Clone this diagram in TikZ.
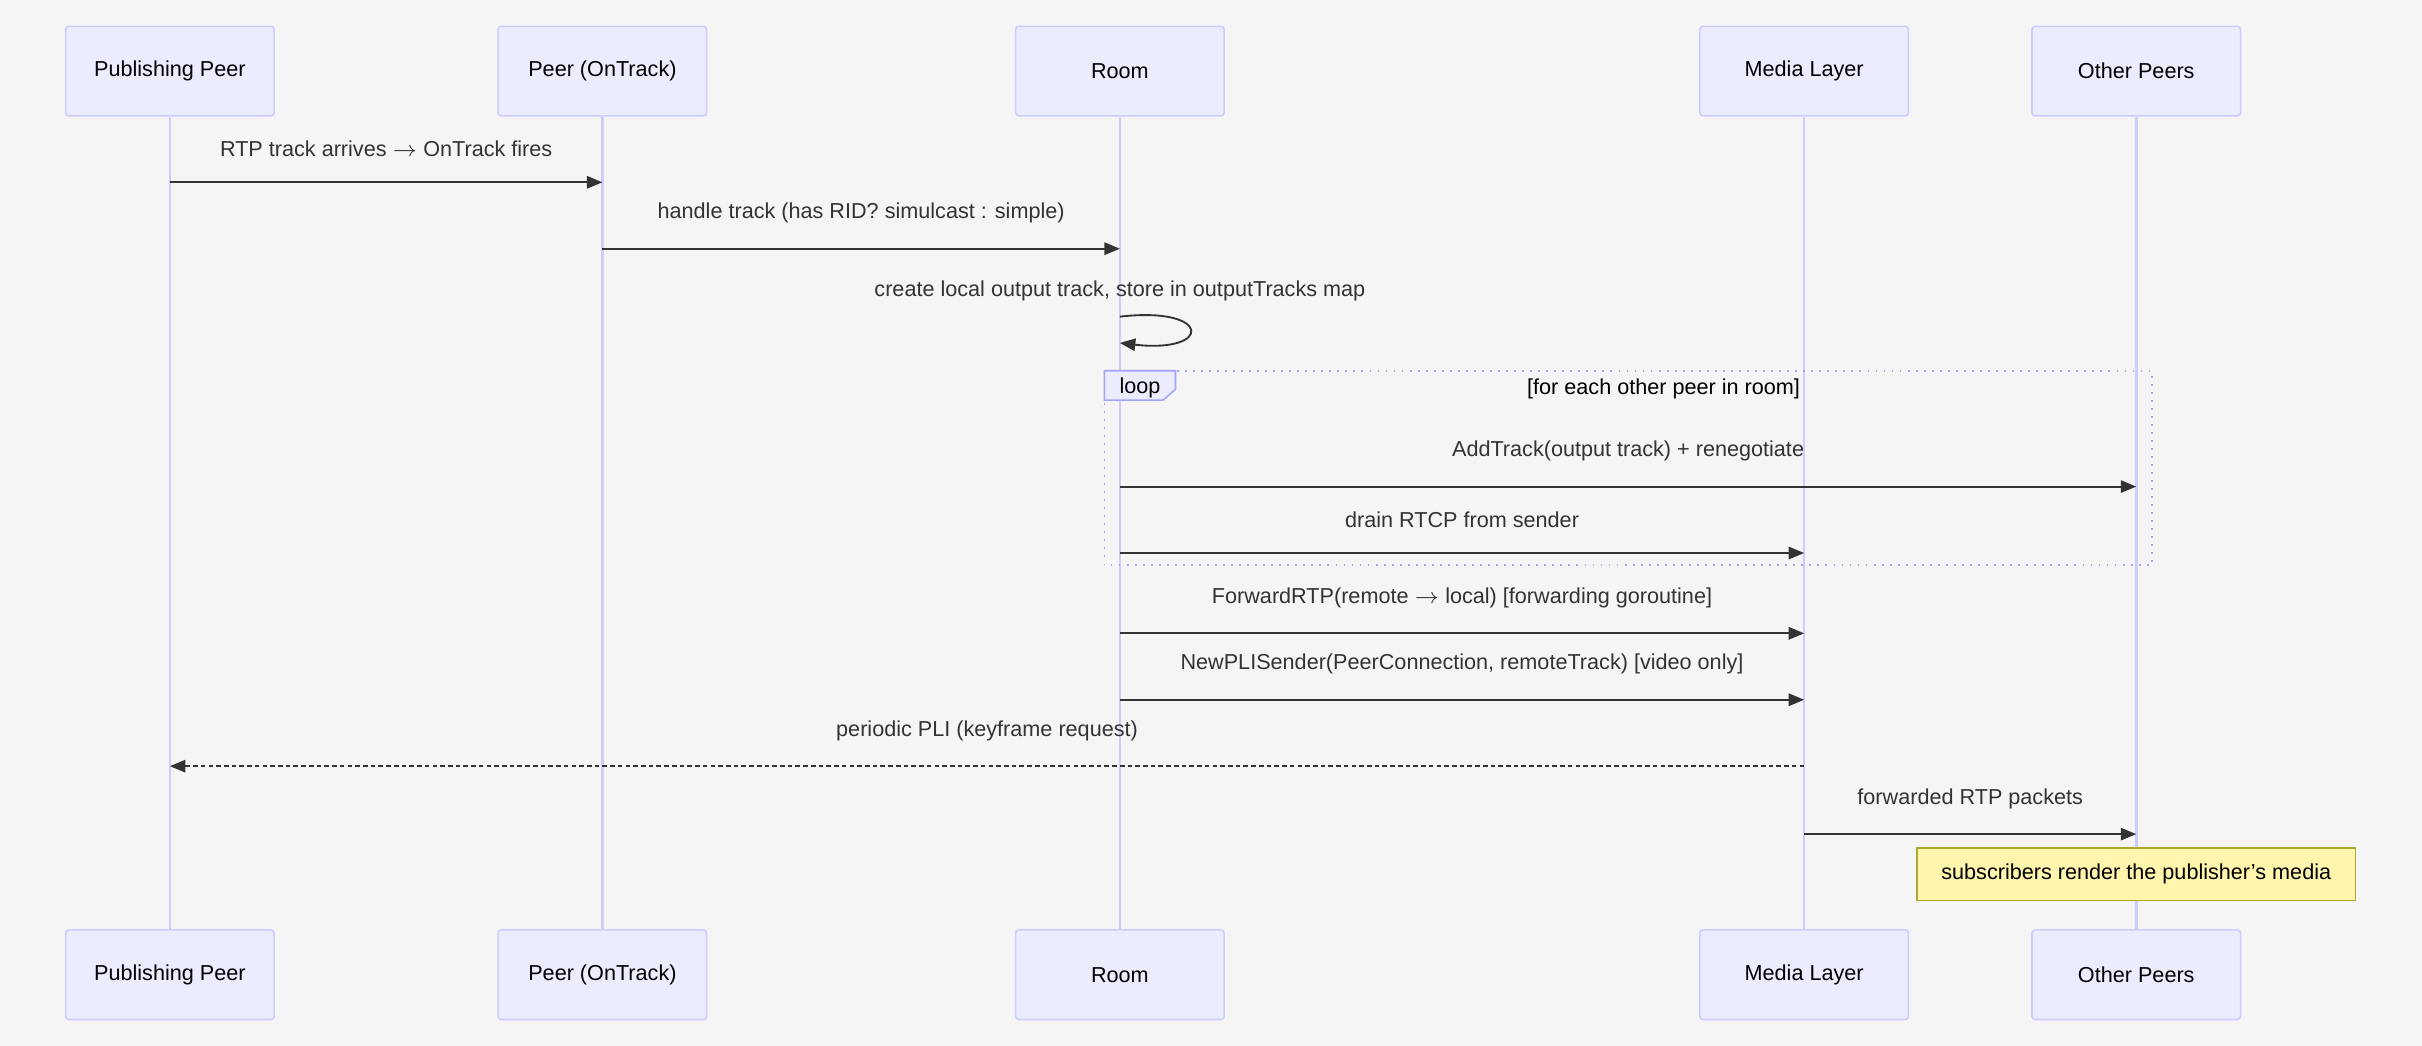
\documentclass[tikz,border=0pt]{standalone}
\usepackage{fontspec}
\setmainfont{Liberation Sans}
\usetikzlibrary{arrows.meta}
\definecolor{actfill}{HTML}{ECECFF}
\definecolor{actline}{HTML}{CCCCFF}
\definecolor{msgline}{HTML}{333333}
\definecolor{notefill}{HTML}{FFF5AD}
\definecolor{noteline}{HTML}{AAAA33}
\begin{document}
\begin{tikzpicture}[x=0.5pt,y=-0.5pt,font=\fontsize{7}{8}\selectfont,
	actor/.style={draw=actline,fill=actfill,rounded corners=1pt,minimum width=67.5pt,minimum height=29pt,line width=0.5pt},
	life/.style={draw=actline,line width=0.8pt},
	msg/.style={draw=msgline,line width=0.6pt,-{Triangle[length=5pt,width=4pt]}},
	reply/.style={msg,dash pattern=on 1.5pt off 1pt},
	lbl/.style={text=msgline,inner sep=0pt}]
	\fill[black!4] (0,0) rectangle (1568,677);

	% actors, top and bottom
	\foreach \nm/\x/\txt in {pub/110/Publishing Peer,trk/390/Peer (OnTrack),room/725/Room,media/1168/Media Layer,other/1383/Other Peers}{
		\node[actor] (\nm T) at (\x,46) {\txt};
		\node[actor] (\nm B) at (\x,631) {\txt};
		\draw[life] (\nm T) -- (\nm B);
	}

	% loop frame
	\draw[draw=actline!80!blue,dotted,line width=0.6pt] (715,240) rectangle (1393,366);
	\draw[draw=actline!80!blue,fill=actfill,line width=0.5pt] (715,240) -- (761,240) -- (761,252) -- (753,259) -- (715,259) -- cycle;
	\node[lbl,text=black] (looptag) at (738,251) {loop};
	\node[lbl,text=black] (loopcond) at (1077,252) {[for each other peer in room]};

	% message end points
	\coordinate (a1) at (110,118);  \coordinate (b1) at (390,118);
	\coordinate (a2) at (390,161);  \coordinate (b2) at (725,161);
	\coordinate (a3) at (725,205);  \coordinate (b3) at (725,222);
	\coordinate (a4) at (725,315);  \coordinate (b4) at (1383,315);
	\coordinate (a5) at (725,358);  \coordinate (b5) at (1168,358);
	\coordinate (a6) at (725,410);  \coordinate (b6) at (1168,410);
	\coordinate (a7) at (725,453);  \coordinate (b7) at (1168,453);
	\coordinate (a8) at (1168,496); \coordinate (b8) at (110,496);
	\coordinate (a9) at (1168,540); \coordinate (b9) at (1383,540);

	\draw[msg] (a1) -- node[lbl,above=8pt] {RTP track arrives $\rightarrow$ OnTrack fires} (b1);
	\draw[msg] (a2) -- node[lbl,above=8pt] {handle track (has RID? simulcast : simple)} (b2);
	\draw[msg] (a3) .. controls (785,198) and (785,229) .. (b3);
	\node[lbl] (selfmsg) at (725,188) {create local output track, store in outputTracks map};
	\draw[msg] (a4) -- node[lbl,above=8pt] {AddTrack(output track) + renegotiate} (b4);
	\draw[msg] (a5) -- node[lbl,above=8pt] {drain RTCP from sender} (b5);
	\draw[msg] (a6) -- node[lbl,above=8pt] {ForwardRTP(remote $\rightarrow$ local) [forwarding goroutine]} (b6);
	\draw[msg] (a7) -- node[lbl,above=8pt] {NewPLISender(PeerConnection, remoteTrack) [video only]} (b7);
	\draw[reply] (a8) -- node[lbl,above=8pt] {periodic PLI (keyframe request)} (b8);
	\draw[msg] (a9) -- node[lbl,above=8pt] {forwarded RTP packets} (b9);

	% note
	\node[draw=noteline,fill=notefill,line width=0.5pt,minimum width=142pt,minimum height=17pt] (note) at (1383,566) {subscribers render the publisher's media};
\end{tikzpicture}
\end{document}
